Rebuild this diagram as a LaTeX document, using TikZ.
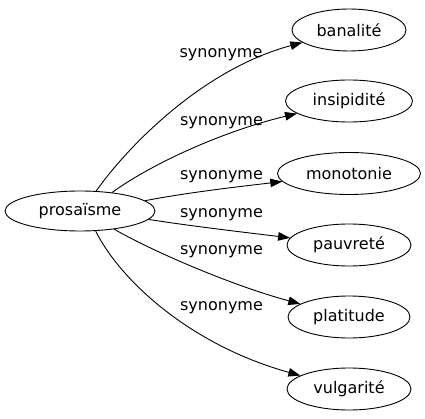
\documentclass[tikz,border=0pt]{standalone}
\usepackage{fontspec}
\setmainfont{DejaVu Sans}
\usetikzlibrary{shapes.geometric,arrows.meta}
\begin{document}
\begin{tikzpicture}[x=1pt,y=-1pt,
  word/.style={ellipse,draw,line width=0.9pt,inner sep=0pt,minimum height=42pt,font=\fontsize{16}{19}\selectfont},
  rel/.style={font=\fontsize{16}{19}\selectfont,inner sep=0pt},
  link/.style={line width=0.9pt,-{Triangle[length=12pt,width=8.5pt]}}]
\useasboundingbox (0,0) rectangle (425,419);
\node[word,minimum width=150pt,minimum height=40pt] (p) at (80,211) {prosaïsme};
\node[word,minimum width=114pt] (t1) at (349,30) {banalité};
\node[word,minimum width=127pt] (t2) at (349,101) {insipidité};
\node[word,minimum width=143pt] (t3) at (349,173.5) {monotonie};
\node[word,minimum width=124pt] (t4) at (349,245) {pauvreté};
\node[word,minimum width=122pt] (t5) at (349,317) {platitude};
\node[word,minimum width=124pt] (t6) at (349,389) {vulgarité};
\draw[link] (p.51) .. controls (125,150) and (200,70) .. (t1);
\draw[link] (p.30) .. controls (150,165) and (220,132) .. (t2);
\draw[link] (p.9) .. controls (190,192) and (245,186) .. (t3);
\draw[link] (p.-7) .. controls (190,226) and (250,233) .. (t4);
\draw[link] (p.-28) .. controls (150,250) and (230,285) .. (t5);
\draw[link] (p.-52) .. controls (120,280) and (190,345) .. (t6);
\node[rel] (l1) at (221,54.5) {synonyme};
\node[rel] (l2) at (221.5,122.5) {synonyme};
\node[rel] (l3) at (221.5,176.5) {synonyme};
\node[rel] (l4) at (221.5,214.5) {synonyme};
\node[rel] (l5) at (221.5,252) {synonyme};
\node[rel] (l6) at (221.5,308) {synonyme};
\end{tikzpicture}
\end{document}
